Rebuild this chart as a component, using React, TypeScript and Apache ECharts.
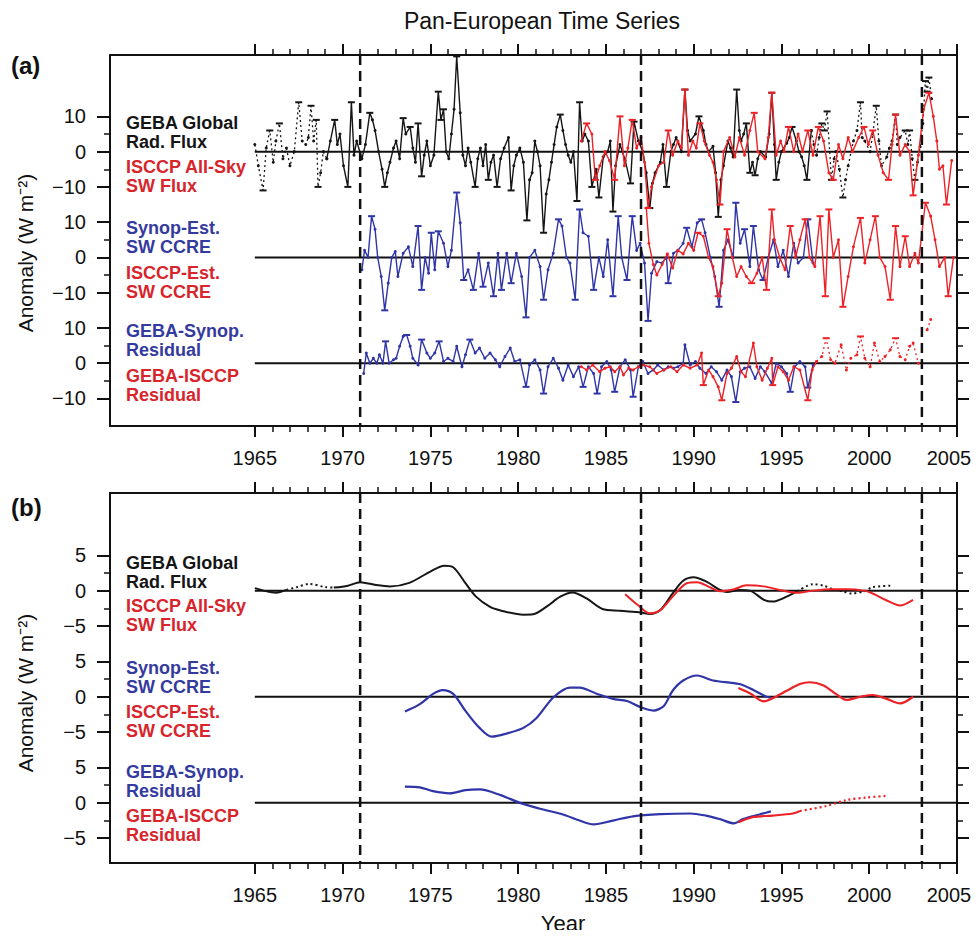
import { useEffect, useRef } from "react";
import * as echarts from "echarts";

type P = [number, number];

// ---------- axes / layout constants ----------
const X_MIN = 1956.75;
const X_MAX = 2005;
const YEAR_MAJOR = [1965, 1970, 1975, 1980, 1985, 1990, 1995, 2000, 2005];
const YEAR_MINOR = Array.from({ length: 41 }, (_, i) => 1965 + i);
const DASHED_YEARS = [1971, 1987, 2003];

const A_OFFSETS = [0, -30, -60];
const A_MAJOR = [10, 0, -10];
const A_MINOR = [5, -5];
const A_Y = [-77.8, 27.4];

const B_OFFSETS = [0, -15, -30];
const B_MAJOR = [5, 0, -5];
const B_MINOR = [2.5, -2.5];
const B_Y = [-38.5, 13.8];

// ---------- panel (a): monthly-ish anomalies (W m-2) ----------
const gebaA: P[] = [
  [1965.0, 2], [1965.2, -4], [1965.47, -11], [1965.65, 1], [1965.85, 6], [1966.05, -3], [1966.2, 3], [1966.4, 8],
  [1966.6, -2], [1966.8, 1], [1967.0, -4], [1967.25, 0], [1967.5, 14], [1967.7, 3], [1967.9, 2], [1968.05, 4],
  [1968.2, 13], [1968.35, 3], [1968.5, 9], [1968.6, -10], [1968.75, -6], [1968.9, 0], [1969.1, -2], [1969.3, 3],
  [1969.55, 9], [1969.7, 2], [1969.85, 5], [1970.05, -4], [1970.3, -10], [1970.5, 14], [1970.65, -1], [1970.8, 3],
  [1971.1, -2], [1971.3, 2], [1971.55, 11], [1971.7, 9], [1971.85, 6], [1972.05, 0], [1972.25, -5], [1972.4, -10],
  [1972.55, -6], [1972.7, -3], [1972.9, 1], [1973.05, 3], [1973.25, -2], [1973.45, 9.5], [1973.6, 5], [1973.85, 7],
  [1974.0, 1], [1974.15, -3], [1974.3, 8], [1974.5, -7], [1974.65, -1], [1974.8, 3], [1975.0, -4], [1975.2, -1],
  [1975.45, 17], [1975.6, 9], [1975.75, 12], [1975.9, 0], [1976.05, -2], [1976.2, 5], [1976.35, 12], [1976.5, 27],
  [1976.7, 11], [1976.85, -1], [1977.0, -4], [1977.15, 1], [1977.3, -3], [1977.55, -10], [1977.7, -2], [1977.85, 1],
  [1978.0, -4], [1978.15, 2], [1978.3, -8], [1978.45, -3], [1978.6, -1], [1978.8, -10], [1979.0, -2], [1979.2, 1],
  [1979.45, 4], [1979.6, -11], [1979.75, -4], [1979.9, -1], [1980.1, 1], [1980.3, -3], [1980.5, -19.5], [1980.65, -8],
  [1980.8, -6], [1980.95, 3], [1981.1, 0], [1981.25, -4], [1981.45, -23], [1981.6, -12], [1981.75, -8], [1981.9, -3],
  [1982.05, 2], [1982.2, 7], [1982.4, 10.5], [1982.55, 6], [1982.7, 2], [1982.85, -1], [1983.0, -3], [1983.15, 0],
  [1983.35, -14], [1983.5, 14], [1983.65, 3], [1983.8, 5], [1984.0, 3], [1984.2, -10], [1984.45, -5], [1984.6, -13],
  [1984.85, -1.5], [1985.1, 0], [1985.25, 3], [1985.4, -17], [1985.55, -4], [1985.8, 2], [1986.1, -2.5], [1986.4, -9],
  [1986.6, 8.5], [1986.85, 3], [1987.1, 0], [1987.3, -6], [1987.5, -16], [1987.65, -9], [1987.8, -6], [1988.1, -3],
  [1988.25, 2], [1988.45, -10], [1988.7, 0], [1988.85, 2], [1989.0, 4], [1989.3, 0], [1989.5, 17.6], [1989.65, 6],
  [1989.8, 3], [1990.1, 5], [1990.3, 10], [1990.55, 6], [1990.7, 2], [1990.85, 0], [1991.1, 1.5], [1991.25, -6],
  [1991.4, -18.5], [1991.55, -8], [1991.7, -4], [1991.95, 3], [1992.1, 1], [1992.25, -1.5], [1992.45, 17.6], [1992.6, 6],
  [1992.7, 3], [1992.85, 5], [1993.0, 8], [1993.2, -6], [1993.35, -3], [1993.5, -6.7], [1993.65, -2], [1993.8, 0],
  [1994.1, -1.5], [1994.3, 5], [1994.45, 16.7], [1994.6, 2], [1994.7, -8], [1994.85, -3], [1995.0, 0], [1995.3, 2.4],
  [1995.45, 4], [1995.6, 7], [1995.85, 3], [1996.0, 0], [1996.15, -1.5], [1996.3, -4], [1996.45, -8], [1996.7, 6],
  [1996.85, 2], [1997.0, -1], [1997.15, 4], [1997.3, 8], [1997.45, 6], [1997.6, 11.4], [1997.85, -8], [1998.0, -2],
  [1998.1, 0], [1998.3, -5], [1998.5, -13], [1998.65, -8], [1998.8, -4], [1999.1, 3], [1999.3, 6], [1999.5, 14],
  [1999.6, 4], [1999.75, 3], [2000.05, 0], [2000.2, 5], [2000.4, 13], [2000.55, 3], [2000.7, -4], [2001.0, -1.5],
  [2001.15, 1], [2001.3, 3], [2001.5, 10.5], [2001.6, 2], [2001.75, 4], [2002.05, 6], [2002.2, 2], [2002.3, 6],
  [2002.45, -2], [2002.6, -8], [2002.75, -3], [2002.9, 1.4], [2003.05, 8], [2003.2, 20], [2003.3, 17], [2003.4, 21],
  [2003.55, 15],
];

const isccpA: P[] = [
  [1983.6, 3], [1983.9, 8], [1984.2, 5], [1984.4, -8], [1984.65, -4], [1984.95, 0], [1985.2, -2.5], [1985.5, -8],
  [1985.8, 10], [1986.05, -4], [1986.25, 1], [1986.5, 9], [1986.75, 1], [1987.0, 4], [1987.2, -3], [1987.4, -16],
  [1987.6, -10], [1988.0, -4], [1988.3, -3], [1988.55, 6], [1988.8, -1], [1989.1, 3], [1989.3, 1], [1989.5, 17.6],
  [1989.7, -1], [1989.95, 3], [1990.15, 1], [1990.35, 8], [1990.6, 3], [1990.9, -1], [1991.1, -3], [1991.3, -8],
  [1991.5, -15], [1991.7, 0], [1992.05, 4], [1992.35, -1.5], [1992.6, 4], [1992.9, -1], [1993.2, 6], [1993.45, 11],
  [1993.65, 0], [1994.06, -2], [1994.25, 4], [1994.45, 16.7], [1994.7, -1], [1994.95, 3], [1995.15, 0], [1995.4, 7],
  [1995.7, 0], [1995.95, 5], [1996.2, 0], [1996.5, 6], [1996.8, -1], [1997.1, 7], [1997.4, 3], [1997.7, -6],
  [1997.95, -8], [1998.25, 2], [1998.5, -2], [1998.8, 4], [1999.05, 0], [1999.4, 4], [1999.7, 7], [1999.95, 2],
  [2000.2, 6], [2000.5, -1], [2000.8, -6], [2001.1, -8], [2001.3, 2], [2001.5, 10.5], [2001.75, -1], [2002.05, 2],
  [2002.3, 0], [2002.5, -12.4], [2002.8, -1], [2003.1, 12], [2003.4, 16.7], [2003.65, 10], [2003.85, 3], [2004.0, -5],
  [2004.2, -4], [2004.4, -15], [2004.7, -2.5],
];

const synopA: P[] = [
  [1971.1, -3.5], [1971.25, 2], [1971.45, 0], [1971.65, 11.7], [1971.85, 8], [1972.0, 0], [1972.2, -5.4], [1972.4, -15],
  [1972.6, -7.3], [1972.8, 0], [1973.0, 1.7], [1973.15, -5.4], [1973.45, 1.2], [1973.75, 3], [1974.0, -2.6], [1974.3, 8.9],
  [1974.5, -9.2], [1974.7, 0], [1974.9, -4.5], [1975.05, 7], [1975.25, -3.5], [1975.45, 7.4], [1975.75, 4], [1976.0, -2.6],
  [1976.2, 2], [1976.5, 18.4], [1976.7, 9.8], [1976.9, -6.4], [1977.15, -3.5], [1977.45, -9.2], [1977.75, 1.2], [1978.0, -8.3],
  [1978.3, -1.6], [1978.6, -11], [1978.85, 1.2], [1979.05, -9.2], [1979.35, 1.2], [1979.6, -7.3], [1979.9, 1.2], [1980.2, -5.4],
  [1980.45, -17], [1980.65, 0], [1980.95, 2], [1981.25, -2.6], [1981.45, -12], [1981.7, -3.5], [1982.0, 1.2], [1982.3, 10.8],
  [1982.5, 8.9], [1982.75, 0], [1982.95, -1.6], [1983.25, -12], [1983.5, 13.6], [1983.7, 7], [1984.0, 6], [1984.3, -9.2],
  [1984.6, 0], [1984.85, -5.4], [1985.1, 5], [1985.4, -11], [1985.7, 11.7], [1985.9, 0], [1986.2, -6.4], [1986.5, 11.7],
  [1986.75, 2], [1986.95, 4], [1987.2, -1.6], [1987.4, -18], [1987.6, -4.5], [1987.9, -1.2], [1988.2, -1.6], [1988.45, 0],
  [1988.55, -7.3], [1988.85, 1.2], [1989.1, 2], [1989.4, 4], [1989.6, 8.4], [1989.9, 3], [1990.2, 9.8], [1990.45, 10.8],
  [1990.65, 7], [1990.95, 0], [1991.2, -5.4], [1991.45, -14], [1991.7, 2], [1991.95, 5], [1992.25, 0], [1992.4, 15.5],
  [1992.65, 4], [1992.9, 8], [1993.2, -2.6], [1993.4, 8.9], [1993.7, -3.5], [1993.95, -6.4], [1994.25, 0], [1994.55, 5],
  [1994.8, -2.6], [1995.1, 2], [1995.4, -5.4], [1995.7, 4], [1995.95, -1.6], [1996.25, 0], [1996.5, 10.8], [1996.8, -1.6],
];

const isccpEstA: P[] = [
  [1987.3, 14], [1987.45, 4], [1987.7, -2], [1987.9, -5], [1988.2, -2], [1988.5, 1], [1988.8, -3], [1989.1, 2],
  [1989.4, 1], [1989.7, 4], [1990.0, 2], [1990.25, 7], [1990.55, 6], [1990.85, 0], [1991.1, -2.6], [1991.4, -11],
  [1991.6, -7.3], [1991.9, 8], [1992.2, 0], [1992.45, -5.4], [1992.7, -2.6], [1993.0, -5.4], [1993.3, -7.3], [1993.6, -4.5],
  [1993.9, 0], [1994.15, -9.2], [1994.45, 13.6], [1994.6, 5], [1994.9, 0], [1995.2, -3.5], [1995.5, 8.9], [1995.8, 0],
  [1996.05, 5], [1996.35, 10.8], [1996.6, 0], [1996.9, -2.6], [1997.2, 11.7], [1997.5, -11], [1997.7, 13.6], [1997.95, 0],
  [1998.25, 5], [1998.5, -14], [1998.8, -5.4], [1999.1, 3], [1999.5, 11.2], [1999.75, -1.6], [2000.05, 5], [2000.35, 11.7],
  [2000.6, 0], [2000.9, -2.6], [2001.2, -12], [2001.5, 8.9], [2001.75, -2.6], [2002.05, 6], [2002.3, -2.6], [2002.6, 1.2],
  [2002.8, -1.6], [2003.2, 15.5], [2003.5, 11.7], [2003.75, 5], [2004.0, -2.6], [2004.3, 0], [2004.5, -11], [2004.8, 0],
];

const residSynopA: P[] = [
  [1971.2, -2.9], [1971.35, 2.9], [1971.55, 0], [1971.75, 1.4], [1971.95, 0], [1972.1, 2.4], [1972.3, 0], [1972.45, 6.2],
  [1972.65, 0], [1972.9, 1], [1973.05, 1.4], [1973.25, 4.8], [1973.45, 7.6], [1973.65, 8], [1973.85, 4.8], [1974.0, 1.4],
  [1974.3, -0.5], [1974.5, 6.7], [1974.8, 2.9], [1975.0, 1.4], [1975.25, 2.9], [1975.5, 6.2], [1975.75, 0.5], [1976.0, 1.4],
  [1976.3, 0.5], [1976.5, 4.8], [1976.8, -1], [1977.0, 2.4], [1977.25, 6.7], [1977.55, 2.9], [1977.8, 4.3], [1978.1, 1.4],
  [1978.4, 2.9], [1978.7, 1], [1978.95, -1], [1979.25, 1.9], [1979.55, 4.3], [1979.8, 0.5], [1980.1, 1], [1980.45, -6.7],
  [1980.65, -0.5], [1980.95, 1], [1981.25, -1.9], [1981.45, -8.6], [1981.7, -1], [1982.0, 1.4], [1982.3, -1.4], [1982.55, -4.8],
  [1982.85, -0.5], [1983.15, -3.8], [1983.45, -1], [1983.7, -6.7], [1984.0, -1], [1984.3, -2.9], [1984.5, -8.6], [1984.75, -1],
  [1985.05, 0.5], [1985.3, -1.9], [1985.5, -8.1], [1985.8, -1], [1986.1, 1], [1986.4, -1.9], [1986.55, -9.5], [1986.85, -1],
  [1987.1, 0.5], [1987.4, -2.9], [1987.7, -1.9], [1987.95, -0.5], [1988.3, -1.9], [1988.55, -1], [1988.85, -1.4], [1989.1, -1],
  [1989.4, 0], [1989.5, 5.2], [1989.8, -0.5], [1990.1, 0.5], [1990.35, -1.4], [1990.7, -2.9], [1991.0, -1], [1991.3, -2.4],
  [1991.6, -4.8], [1991.9, -1.9], [1992.15, -3.8], [1992.4, -11], [1992.65, -2.4], [1992.9, -1.4], [1993.2, -1], [1993.5, -4.3],
  [1993.8, -1], [1994.05, -2.4], [1994.45, -5.7], [1994.7, 0], [1995.0, -1], [1995.3, -2.9], [1995.5, -8.1], [1995.75, -1],
  [1996.05, 0.5], [1996.35, -1], [1996.5, -6.9], [1996.8, -0.5],
];

const residIsccpA: P[] = [
  [1983.6, -1], [1983.9, -1.9], [1984.25, -0.5], [1984.65, -2.4], [1984.95, -1.4], [1985.25, -1], [1985.5, -2.4], [1985.8, -1],
  [1986.0, -3.3], [1986.3, -1.4], [1986.55, -1.9], [1986.85, -1], [1987.1, -0.5], [1987.5, -1], [1987.9, -2.9], [1988.3, -1.9],
  [1988.7, -1], [1989.05, -2.4], [1989.4, -0.5], [1989.8, -1.4], [1990.2, -0.5], [1990.45, 2.9], [1990.55, -6.2], [1990.85, -1.9],
  [1991.1, -3.8], [1991.4, -6.7], [1991.6, -10.5], [1991.9, -2.9], [1992.15, -1.4], [1992.45, 1.9], [1992.7, -2.4], [1992.95, -3.8],
  [1993.4, 5.7], [1993.6, -1], [1993.9, -4.8], [1994.2, -1.4], [1994.45, 1.4], [1994.5, -6.2], [1994.8, -1], [1995.1, -2.4],
  [1995.4, -4.8], [1995.7, -1], [1996.05, -1.9], [1996.5, -10.5], [1996.75, -1.9], [1997.0, 0.5], [1997.3, 1.9], [1997.55, 7.1],
  [1997.8, 1], [1998.05, 0], [1998.4, 5.2], [1998.7, -1.9], [1998.95, 1.4], [1999.3, 2.4], [1999.5, 7.6], [1999.75, 1.4],
  [2000.05, -1], [2000.3, 5.7], [2000.6, 0.5], [2000.9, 1.9], [2001.2, 3.8], [2001.5, 7.1], [2001.75, 1.9], [2002.05, 1],
  [2002.3, 4.8], [2002.5, 5.7], [2002.8, 0], [2003.3, 9.5], [2003.5, 12.4],
];

// ---------- panel (b): smoothed anomalies (W m-2) ----------
const gebaB: P[] = [
  [1965.0, 0.35], [1965.5, 0.0], [1966.2, -0.3], [1966.8, 0.1], [1967.4, 0.5], [1968.1, 0.95], [1969.0, 0.5], [1969.5, 0.43],
  [1970.3, 0.7], [1971.0, 1.2], [1971.9, 0.8], [1972.7, 0.6], [1973.8, 1.1], [1975.0, 2.7], [1975.8, 3.5], [1976.3, 3.3],
  [1977.0, 1.05], [1977.6, -0.85], [1978.4, -2.3], [1979.0, -2.8], [1980.3, -3.4], [1980.85, -3.35], [1981.6, -2.3], [1982.4, -0.85],
  [1983.1, -0.25], [1983.9, -1.1], [1984.8, -2.6], [1985.8, -2.85], [1987.0, -3.1], [1987.5, -3.3], [1988.1, -2.75], [1988.8, -0.4],
  [1989.4, 1.4], [1990.0, 1.9], [1990.7, 1.3], [1991.5, 0.1], [1991.9, -0.2], [1992.6, 0.1], [1993.2, 0], [1994.0, -1.3],
  [1994.5, -1.55], [1995.3, -0.85], [1995.9, -0.1], [1996.8, 0.9], [1997.4, 0.7], [1997.95, 0.2], [1998.5, -0.1], [1999.0, -0.4],
  [1999.7, -0.1], [2000.2, 0.5], [2001.3, 0.7],
];
const isccpB: P[] = [
  [1986.1, -0.5], [1986.8, -2.0], [1987.5, -3.2], [1988.1, -2.75], [1988.8, -0.85], [1989.6, 1.05], [1990.2, 1.2], [1990.9, 0.5],
  [1991.5, -0.1], [1992.3, 0.2], [1993.0, 0.75], [1994.0, 0.6], [1994.9, 0.1], [1995.9, -0.3], [1996.8, 0], [1997.8, 0.2],
  [1998.7, 0.2], [1999.7, 0], [2000.2, -0.4], [2001.0, -1.4], [2001.75, -2.1], [2002.5, -1.3],
];
const synopB: P[] = [
  [1973.55, -2.1], [1974.4, -1.05], [1975.15, 0.4], [1975.7, 0.95], [1976.3, 0.4], [1977.0, -2.0], [1977.8, -4.4], [1978.5, -5.65],
  [1979.35, -5.2], [1980.3, -4.4], [1981.05, -3.0], [1982.0, -0.1], [1982.95, 1.3], [1983.5, 1.3], [1984.5, 0.4], [1985.4, -0.3],
  [1986.2, -0.6], [1986.9, -1.4], [1987.7, -1.95], [1988.3, -1.3], [1988.8, 0.85], [1989.4, 2.3], [1990.2, 3.0], [1991.1, 2.3],
  [1992.6, 1.8], [1993.4, 0.95], [1994.15, 0], [1994.4, -0.1],
];
const isccpEstB: P[] = [
  [1992.55, 1.25], [1993.2, 0.5], [1994.0, -0.65], [1994.5, -0.2], [1995.3, 0.85], [1996.05, 1.8], [1996.6, 2.05], [1997.4, 1.6],
  [1998.1, 0.4], [1998.7, -0.45], [1999.5, 0], [2000.2, 0.25], [2001.0, -0.3], [2001.75, -0.95], [2002.5, 0],
];
const residSynopB: P[] = [
  [1973.55, 2.3], [1974.4, 2.2], [1975.15, 1.65], [1976.1, 1.35], [1977.0, 1.8], [1977.8, 1.9], [1979.0, 1.1], [1980.1, 0],
  [1981.2, -0.8], [1982.55, -1.65], [1983.5, -2.5], [1984.3, -3.05], [1985.4, -2.5], [1986.55, -1.9], [1988.1, -1.6], [1989.8, -1.5],
  [1990.7, -1.8], [1991.5, -2.3], [1992.3, -2.9], [1992.8, -2.3], [1993.8, -1.6], [1994.4, -1.2],
];
const residIsccpB: P[] = [
  [1992.55, -2.75], [1993.4, -2.0], [1994.5, -1.8], [1995.65, -1.5], [1996.05, -1.15], [1997.55, -0.45], [1998.7, 0.4],
  [1999.85, 0.75], [2001.0, 1.0],
];

// ---------- styling ----------
const FONT = "'Liberation Sans', Arial, Helvetica, sans-serif";
const BLACK = "#151515";
const RED = "#ec2227";
const BLUE = "#2f35a6";
const RED_TXT = "#d8242b";
const BLUE_TXT = "#343a9e";
const AXIS = "#111";

const GRID_A = { left: 110, top: 55, width: 847, height: 371 };
const GRID_B = { left: 110, top: 493, width: 847, height: 370 };

const seg = (d: P[], from: number, to: number) => d.filter((p) => p[0] >= from && p[0] <= to);

// shift a series by its group offset; spike tips get a flat "cap" marker like the error-bar caps
function shift(d: P[], off: number, caps = false): any[] {
  return d.map((p, i) => {
    const v = p[1];
    const prev = i > 0 ? d[i - 1][1] : v;
    const next = i < d.length - 1 ? d[i + 1][1] : v;
    const isTip = caps && Math.abs(v) >= 6 && ((v > prev && v > next) || (v < prev && v < next));
    if (isTip) return { value: [p[0], v + off], symbol: "rect", symbolSize: [7, 2] };
    return [p[0], v + off];
  });
}

function relFormatter(offsets: number[]) {
  return (v: number) => {
    let best = offsets[0];
    for (const o of offsets) if (Math.abs(v - o) < Math.abs(v - best)) best = o;
    const r = Math.round((v - best) * 10) / 10;
    return r < 0 ? "\u2212" + Math.abs(r) : String(r);
  };
}

function xAxesFor(gridIndex: number) {
  const base = {
    type: "value",
    gridIndex,
    min: X_MIN,
    max: X_MAX,
    splitLine: { show: false },
  };
  const line = { show: true, onZero: false, lineStyle: { color: AXIS, width: 2 } };
  const major = { show: true, customValues: YEAR_MAJOR, length: 11, lineStyle: { color: AXIS, width: 2 } };
  const minor = { show: true, customValues: YEAR_MINOR, length: 6, lineStyle: { color: AXIS, width: 1.5 } };
  return [
    {
      ...base,
      position: "bottom",
      axisLine: line,
      axisTick: major,
      axisLabel: {
        show: true,
        customValues: YEAR_MAJOR,
        margin: 22,
        fontSize: 20,
        color: AXIS,
        fontFamily: FONT,
        formatter: (v: number) => {
          const y = Math.round(v);
          return y === X_MAX ? "{last|" + y + "}" : String(y);
        },
        rich: { last: { fontSize: 20, fontFamily: FONT, color: AXIS, padding: [0, 16, 0, 0] } },
      },
    },
    { ...base, position: "bottom", axisLine: { show: false, onZero: false }, axisTick: minor, axisLabel: { show: false } },
    { ...base, position: "top", axisLine: line, axisTick: major, axisLabel: { show: false } },
    { ...base, position: "top", axisLine: { show: false, onZero: false }, axisTick: minor, axisLabel: { show: false } },
  ];
}

function yAxesFor(gridIndex: number, range: number[], offsets: number[], majorRel: number[], minorRel: number[]) {
  const majorVals = offsets.flatMap((o) => majorRel.map((m) => o + m));
  const minorVals = offsets.flatMap((o) => minorRel.map((m) => o + m));
  const base = {
    type: "value",
    gridIndex,
    min: range[0],
    max: range[1],
    splitLine: { show: false },
  };
  const line = { show: true, onZero: false, lineStyle: { color: AXIS, width: 2 } };
  return [
    {
      ...base,
      position: "left",
      axisLine: line,
      axisTick: { show: true, customValues: majorVals, length: 13, lineStyle: { color: AXIS, width: 2 } },
      axisLabel: {
        show: true,
        customValues: majorVals,
        margin: 24,
        fontSize: 20,
        color: AXIS,
        fontFamily: FONT,
        formatter: relFormatter(offsets),
      },
    },
    {
      ...base,
      position: "left",
      axisLine: { show: false, onZero: false },
      axisTick: { show: true, customValues: minorVals, length: 6, lineStyle: { color: AXIS, width: 1.5 } },
      axisLabel: { show: false },
    },
    {
      ...base,
      position: "right",
      axisLine: line,
      axisTick: { show: true, customValues: majorVals, length: 12, lineStyle: { color: AXIS, width: 2 } },
      axisLabel: { show: false },
    },
    {
      ...base,
      position: "right",
      axisLine: { show: false, onZero: false },
      axisTick: { show: true, customValues: minorVals, length: 6, lineStyle: { color: AXIS, width: 1.5 } },
      axisLabel: { show: false },
    },
  ];
}

function lineSeries(
  grid: number,
  data: any[],
  color: string,
  width: number,
  opts: { dotted?: boolean; dashed?: number[]; symbol?: number; z?: number; smooth?: boolean } = {}
) {
  const idx = grid * 4;
  return {
    type: "line",
    xAxisIndex: idx,
    yAxisIndex: idx,
    data,
    smooth: opts.smooth ? 0.3 : false,
    symbol: opts.symbol ? "circle" : "none",
    symbolSize: opts.symbol || 0,
    showSymbol: !!opts.symbol,
    itemStyle: { color },
    lineStyle: {
      color,
      width,
      type: opts.dashed ? opts.dashed : opts.dotted ? [2, 3] : "solid",
    },
    z: opts.z ?? 3,
    silent: true,
    clip: false,
  };
}

function frameSeries(grid: number, offsets: number[], range: number[]) {
  const out: any[] = [];
  for (const o of offsets) {
    out.push(lineSeries(grid, [[1965, o], [X_MAX, o]], AXIS, 2, { z: 2 }));
  }
  for (const yr of DASHED_YEARS) {
    out.push(lineSeries(grid, [[yr, range[1]], [yr, range[0]]], AXIS, 2.5, { dashed: [10, 6], z: 6 }));
  }
  return out;
}

const LABELS_A: [string, string, number][] = [
  ["GEBA Global\nRad. Flux", BLACK, 123],
  ["ISCCP All-Sky\nSW Flux", RED_TXT, 167],
  ["Synop-Est.\nSW CCRE", BLUE_TXT, 228],
  ["ISCCP-Est.\nSW CCRE", RED_TXT, 273],
  ["GEBA-Synop.\nResidual", BLUE_TXT, 331],
  ["GEBA-ISCCP\nResidual", RED_TXT, 376],
];
const LABELS_B: [string, string, number][] = [
  ["GEBA Global\nRad. Flux", BLACK, 563],
  ["ISCCP All-Sky\nSW Flux", RED_TXT, 606],
  ["Synop-Est.\nSW CCRE", BLUE_TXT, 668],
  ["ISCCP-Est.\nSW CCRE", RED_TXT, 712],
  ["GEBA-Synop.\nResidual", BLUE_TXT, 772],
  ["GEBA-ISCCP\nResidual", RED_TXT, 816],
];

function buildOption() {
  const [a1, a2, a3] = A_OFFSETS;
  const [b1, b2, b3] = B_OFFSETS;
  const series: any[] = [
    ...frameSeries(0, A_OFFSETS, A_Y),
    ...frameSeries(1, B_OFFSETS, B_Y),
    // panel (a)
    lineSeries(0, shift(seg(gebaA, 1965, 1969.1), a1, true), BLACK, 1.3, { dotted: true, symbol: 3 }),
    lineSeries(0, shift(seg(gebaA, 1969.1, 1996.7), a1, true), BLACK, 1.4, { symbol: 3 }),
    lineSeries(0, shift(seg(gebaA, 1996.7, 2004), a1, true), BLACK, 1.3, { dotted: true, symbol: 3 }),
    lineSeries(0, shift(isccpA, a1, true), RED, 1.4, { symbol: 3, z: 4 }),
    lineSeries(0, shift(synopA, a2, true), BLUE, 1.4, { symbol: 3 }),
    lineSeries(0, shift(isccpEstA, a2, true), RED, 1.4, { symbol: 3, z: 4 }),
    lineSeries(0, shift(residSynopA, a3, true), BLUE, 1.4, { symbol: 3 }),
    lineSeries(0, shift(seg(residIsccpA, 1983, 1997.0), a3, true), RED, 1.4, { symbol: 3, z: 4 }),
    lineSeries(0, shift(seg(residIsccpA, 1997.0, 2003.0), a3, true), RED, 1.3, { dotted: true, symbol: 3, z: 4 }),
    lineSeries(0, shift(seg(residIsccpA, 2003.0, 2005), a3, true), RED, 1.3, { dotted: true, symbol: 3, z: 4 }),
    // panel (b)
    lineSeries(1, shift(seg(gebaB, 1965, 1966.8), b1), BLACK, 2, { smooth: true }),
    lineSeries(1, shift(seg(gebaB, 1966.8, 1969.5), b1), BLACK, 2, { dotted: true, smooth: true }),
    lineSeries(1, shift(seg(gebaB, 1969.5, 1995.9), b1), BLACK, 2, { smooth: true }),
    lineSeries(1, shift(seg(gebaB, 1995.9, 2002), b1), BLACK, 2, { dotted: true, smooth: true }),
    lineSeries(1, shift(isccpB, b1), RED, 2, { smooth: true, z: 4 }),
    lineSeries(1, shift(synopB, b2), BLUE, 2.2, { smooth: true }),
    lineSeries(1, shift(isccpEstB, b2), RED, 2.2, { smooth: true, z: 4 }),
    lineSeries(1, shift(residSynopB, b3), BLUE, 2.2, { smooth: true }),
    lineSeries(1, shift(seg(residIsccpB, 1992.5, 1996.05), b3), RED, 2.2, { smooth: true, z: 4 }),
    lineSeries(1, shift(seg(residIsccpB, 1996.05, 2002), b3), RED, 2.2, { dotted: true, smooth: true, z: 4 }),
  ];

  const textEl = (text: string, x: number, y: number, extra: any = {}) => ({
    type: "text",
    x,
    y,
    silent: true,
    style: {
      text,
      fontFamily: FONT,
      fontSize: 20,
      fill: AXIS,
      align: "left",
      verticalAlign: "middle",
      ...extra,
    },
  });

  const graphics: any[] = [
    textEl("Pan-European Time Series", 542, 21, { align: "center", fontSize: 23 }),
    textEl("(a)", 11, 65, { fontWeight: "bold", fontSize: 24 }),
    textEl("(b)", 11, 507, { fontWeight: "bold", fontSize: 24 }),
    textEl("Year", 563, 923, { align: "center", fontSize: 22 }),
    {
      type: "text",
      x: 25,
      y: 253,
      rotation: Math.PI / 2,
      silent: true,
      style: { text: "Anomaly (W m\u207B\u00B2)", fontFamily: FONT, fontSize: 21, fill: AXIS, align: "center", verticalAlign: "middle" },
    },
    {
      type: "text",
      x: 25,
      y: 693,
      rotation: Math.PI / 2,
      silent: true,
      style: { text: "Anomaly (W m\u207B\u00B2)", fontFamily: FONT, fontSize: 21, fill: AXIS, align: "center", verticalAlign: "middle" },
    },
    ...[...LABELS_A, ...LABELS_B].map(([t, c, y]) =>
      textEl(t, 126, y - 9, { fill: c, fontWeight: "bold", fontSize: 18, lineHeight: 18.5, verticalAlign: "top" })
    ),
  ];

  return {
    animation: false,
    backgroundColor: "#ffffff",
    grid: [
      { ...GRID_A, containLabel: false },
      { ...GRID_B, containLabel: false },
    ],
    xAxis: [...xAxesFor(0), ...xAxesFor(1)],
    yAxis: [
      ...yAxesFor(0, A_Y, A_OFFSETS, A_MAJOR, A_MINOR),
      ...yAxesFor(1, B_Y, B_OFFSETS, B_MAJOR, B_MINOR),
    ],
    series,
    graphic: graphics,
  };
}

export default function App() {
  const ref = useRef<HTMLDivElement>(null);
  useEffect(() => {
    if (!ref.current) return;
    const chart = echarts.init(ref.current, undefined, { renderer: "svg" });
    chart.setOption(buildOption() as any);
    return () => chart.dispose();
  }, []);
  return <div ref={ref} style={{ width: 979, height: 938, margin: -8 }} />;
}
